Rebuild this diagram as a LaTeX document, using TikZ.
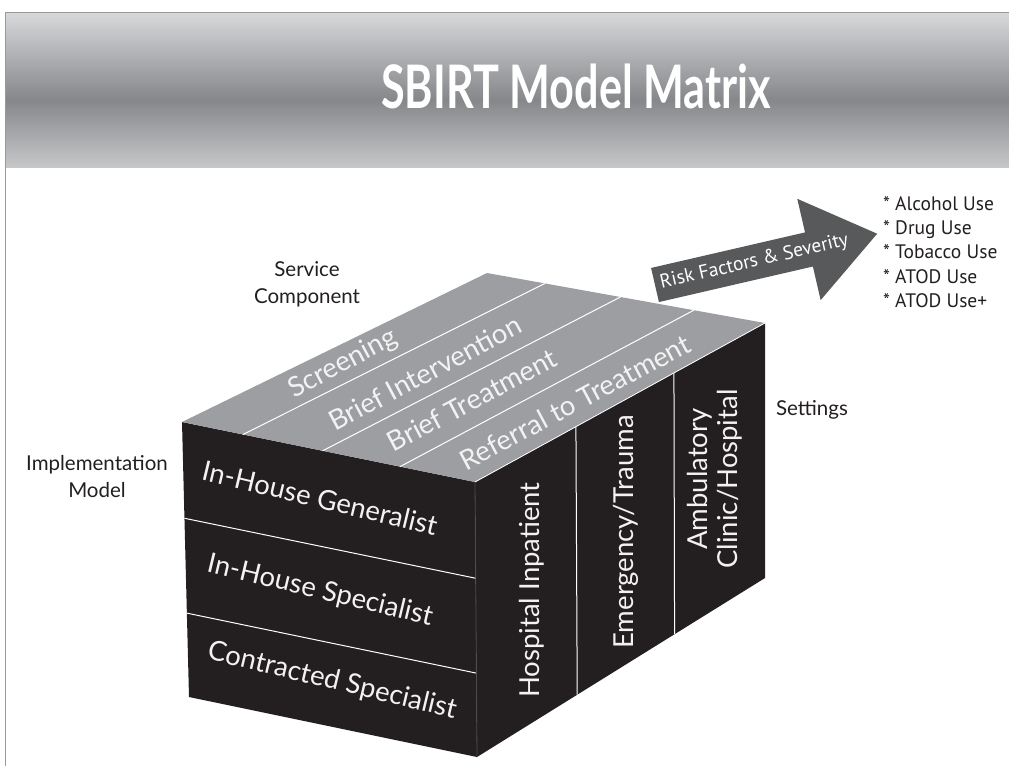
\documentclass[tikz,border=0pt]{standalone}
\usepackage{fontspec}
\setmainfont{Lato}
\newfontfamily\myriad{PT Sans}
\tikzset{>=stealth}
\usetikzlibrary{calc}
\definecolor{faceblack}{HTML}{231F20}
\definecolor{topgray}{HTML}{9D9EA1}
\definecolor{arrowgray}{HTML}{58595B}
\definecolor{bandlight}{HTML}{D8D9DB}
\definecolor{banddark}{HTML}{86878A}
\definecolor{bandlow}{HTML}{C6C7C9}
\tikzset{
  facetext/.style={text=white!95!black, font=\fontsize{27.5}{30}\selectfont, inner sep=0pt, align=center},
  sidelabel/.style={text=faceblack, font=\fontsize{20.5}{27}\selectfont, align=center, inner sep=0pt},
  divider/.style={white, line width=1pt}
}

\begin{document}
\begin{tikzpicture}[x=1pt,y=-1pt]
    \useasboundingbox (0,0) rectangle (1009,766);
    % title band
    \shade[top color=bandlight, bottom color=banddark] (5,12) rectangle (1009,100);
    \shade[top color=banddark, bottom color=bandlow] (5,100) rectangle (1009,167);
    \draw[gray!80, line width=1pt] (1009,12) -- (5,12) -- (5,766);
    \node[text=white, font=\bfseries\fontsize{60}{60}\selectfont] (title) at (576,86) {\scalebox{0.72}[1]{SBIRT Model Matrix}};

    % cube corners
    \coordinate (tl) at (182,422);
    \coordinate (bk) at (487,273);
    \coordinate (rt) at (765,323);
    \coordinate (ft) at (475,482);
    \coordinate (fb) at (477,757);
    \coordinate (lb) at (189,697);
    \coordinate (rb) at (765,578);
    \fill[faceblack] (tl) -- (ft) -- (fb) -- (lb) -- cycle;
    \fill[faceblack] (ft) -- (rt) -- (rb) -- (fb) -- cycle;
    \fill[topgray] (tl) -- (bk) -- (rt) -- (ft) -- cycle;
    \foreach \t in {0.208,0.48,0.744}
        \draw[divider] ($(tl)!\t!(ft)$) -- ($(bk)!\t!(rt)$);
    \foreach \t in {0.35,0.695}
        \draw[divider] ($(tl)!\t!(lb)$) -- ($(ft)!\t!(fb)$);
    \foreach \t in {0.348,0.686}
        \draw[divider] ($(ft)!\t!(rt)$) -- ($(fb)!\t!(rb)$);
    \draw[white, line width=0.8pt] (ft) -- (rt);
    \draw[gray!60!black, line width=0.8pt] (ft) -- (fb);

    % service component (top)
    \node[facetext, rotate=28] (screening) at (343,364) {Screening};
    \node[facetext, rotate=28] (briefint) at (425,373) {Brief Intervention};
    \node[facetext, rotate=28] (brieftreat) at (472,400) {Brief Treatment};
    \node[facetext, rotate=28] (referral) at (575,402) {Referral to Treatment};
    % implementation model (left)
    \node[facetext, rotate=-13.5] (generalist) at (320,498) {In-House Generalist};
    \node[facetext, rotate=-13.5] (specialist) at (320,591) {In-House Specialist};
    \node[facetext, rotate=-13.5] (contracted) at (332,681) {Contracted Specialist};
    % settings (right)
    \node[facetext, rotate=90] (inpatient) at (532,590) {Hospital Inpatient};
    \node[facetext, rotate=90] (emergency) at (626,532) {Emergency/Trauma};
    \node[facetext, rotate=90] (ambulatory) at (715,479) {Ambulatory\\Clinic/Hospital};

    \node[sidelabel] (service) at (307,284) {Service\\Component};
    \node[sidelabel] (implementation) at (97,477) {Implementation\\Model};
    \node[sidelabel] (settings) at (812,410) {Settings};

    % risk arrow
    \begin{scope}[shift={(655,285)}, rotate=13]
        \fill[arrowgray] (0,-17.5) -- (158,-17.5) -- (158,-52) -- (228,0) -- (158,52) -- (158,17.5) -- (0,17.5) -- cycle;
        \node[transform shape, text=white, font=\myriad\fontsize{19.5}{20}\selectfont] (risk) at (102,0) {Risk Factors \& Severity};
    \end{scope}
    \node[anchor=north west, text=faceblack, font=\myriad\fontsize{19.5}{24.3}\selectfont, align=left, inner sep=0pt] (riskfactors) at (883,196) {* Alcohol Use\\* Drug Use\\* Tobacco Use\\* ATOD Use\\* ATOD Use+};
\end{tikzpicture}
\end{document}
